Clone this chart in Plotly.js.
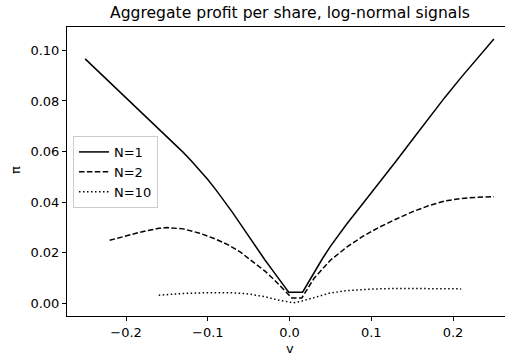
<!DOCTYPE html>
<html>
<head>
<meta charset="utf-8">
<script src="https://cdn.plot.ly/plotly-3.0.1.min.js"></script>
<style>
  html, body { margin: 0; padding: 0; background: #fff; overflow: hidden; }
  #chart { width: 505px; height: 356px; }
</style>
</head>
<body>
<div id="chart"></div>
<script>
// Aggregate profit per share as a function of v, for N = 1, 2, 10 traders
const vN1 = [-0.25, -0.22, -0.20, -0.18, -0.16, -0.15, -0.14, -0.13, -0.12, -0.11, -0.10, -0.09, -0.08, -0.07, -0.06, -0.05, -0.04, -0.03, -0.02, -0.01, -0.001, 0.016, 0.03, 0.04, 0.05, 0.06, 0.07, 0.09, 0.11, 0.13, 0.15, 0.17, 0.19, 0.21, 0.23, 0.25];
const piN1 = [0.0966, 0.0874, 0.0813, 0.0752, 0.0691, 0.0661, 0.0629, 0.0597, 0.0563, 0.0527, 0.0490, 0.0449, 0.0406, 0.0361, 0.0314, 0.0266, 0.0217, 0.0172, 0.0128, 0.0086, 0.0045, 0.0045, 0.0123, 0.0176, 0.0226, 0.0272, 0.0314, 0.0396, 0.0477, 0.0561, 0.0646, 0.0730, 0.0814, 0.0893, 0.0970, 0.1045];

const vN2 = [-0.22, -0.20, -0.18, -0.16, -0.15, -0.13, -0.11, -0.09, -0.075, -0.06, -0.045, -0.03, -0.02, -0.01, 0.0, 0.003, 0.015, 0.03, 0.05, 0.07, 0.09, 0.11, 0.13, 0.15, 0.17, 0.19, 0.21, 0.23, 0.25];
const piN2 = [0.0250, 0.0268, 0.0284, 0.0297, 0.0300, 0.0295, 0.0278, 0.0254, 0.0232, 0.0203, 0.0167, 0.0128, 0.0098, 0.0064, 0.0032, 0.0022, 0.0022, 0.0100, 0.0171, 0.0223, 0.0266, 0.0302, 0.0333, 0.0362, 0.0386, 0.0405, 0.0415, 0.0420, 0.0422];

const vN10 = [-0.16, -0.13, -0.10, -0.07, -0.05, -0.03, -0.015, 0.0, 0.005, 0.015, 0.03, 0.05, 0.07, 0.10, 0.13, 0.16, 0.19, 0.21];
const piN10 = [0.0033, 0.0040, 0.0043, 0.0043, 0.0038, 0.0027, 0.0015, 0.0005, 0.0003, 0.0010, 0.0025, 0.0042, 0.0051, 0.0057, 0.0060, 0.0060, 0.0059, 0.0058];

const seriesNames = ['N=1', 'N=2', 'N=10'];
const xTickVals = [-0.2, -0.1, 0.0, 0.1, 0.2];
const yTickVals = [0.00, 0.02, 0.04, 0.06, 0.08, 0.10];

const font = 'DejaVu Sans, sans-serif';
const small = 13;

const traces = [
  { x: vN1, y: piN1, name: seriesNames[0], mode: 'lines',
    line: { color: '#000', width: 1.5, dash: 'solid' } },
  { x: vN2, y: piN2, name: seriesNames[1], mode: 'lines',
    line: { color: '#000', width: 1.5, dash: '5.5px,2.4px' } },
  { x: vN10, y: piN10, name: seriesNames[2], mode: 'lines',
    line: { color: '#000', width: 1.5, dash: '1.5px,2.5px' } }
];

const layout = {
  width: 505,
  height: 356,
  margin: { l: 67, r: 0, t: 27, b: 40, pad: 0 },
  paper_bgcolor: '#fff',
  plot_bgcolor: '#fff',
  font: { family: font, size: small, color: '#000' },
  title: {
    text: 'Aggregate profit per share, log-normal signals',
    font: { family: font, size: 15.6, color: '#000' },
    x: 0.509, xref: 'paper', xanchor: 'center',
    y: 1 - 13 / 356, yref: 'container', yanchor: 'middle'
  },
  xaxis: {
    range: [-0.2722, 0.2636],
    tickvals: xTickVals,
    tickformat: '.1f',
    ticks: 'outside', ticklen: 4, tickwidth: 1, tickcolor: '#000',
    showline: true, linecolor: '#000', linewidth: 1, mirror: true,
    showgrid: false, zeroline: false,
    tickfont: { family: font, size: small, color: '#000' }
  },
  yaxis: {
    range: [-0.0049, 0.1092],
    tickvals: yTickVals,
    tickformat: '.2f',
    ticks: 'outside', ticklen: 4, tickwidth: 1, tickcolor: '#000',
    showline: true, linecolor: '#000', linewidth: 1, mirror: false,
    showgrid: false, zeroline: false,
    tickfont: { family: font, size: small, color: '#000' }
  },
  // axis labels placed in the margins
  annotations: [
    { text: 'v', xref: 'paper', yref: 'paper', x: 0.509, y: -0.114,
      xanchor: 'center', yanchor: 'middle', showarrow: false,
      font: { family: font, size: small, color: '#000' } },
    { text: 'π', xref: 'paper', yref: 'paper', x: -0.1187, y: 0.505,
      xanchor: 'center', yanchor: 'middle', textangle: -90, showarrow: false,
      font: { family: font, size: small, color: '#000' } }
  ],
  showlegend: true,
  legend: {
    x: 0.0137, y: 0.623, xanchor: 'left', yanchor: 'top',
    bgcolor: 'rgba(255,255,255,0.8)',
    bordercolor: '#cccccc', borderwidth: 1,
    font: { family: font, size: small, color: '#000' },
    itemwidth: 30,
    tracegroupgap: 0
  }
};

Plotly.newPlot('chart', traces, layout, { staticPlot: true, displayModeBar: false });
</script>
</body>
</html>
